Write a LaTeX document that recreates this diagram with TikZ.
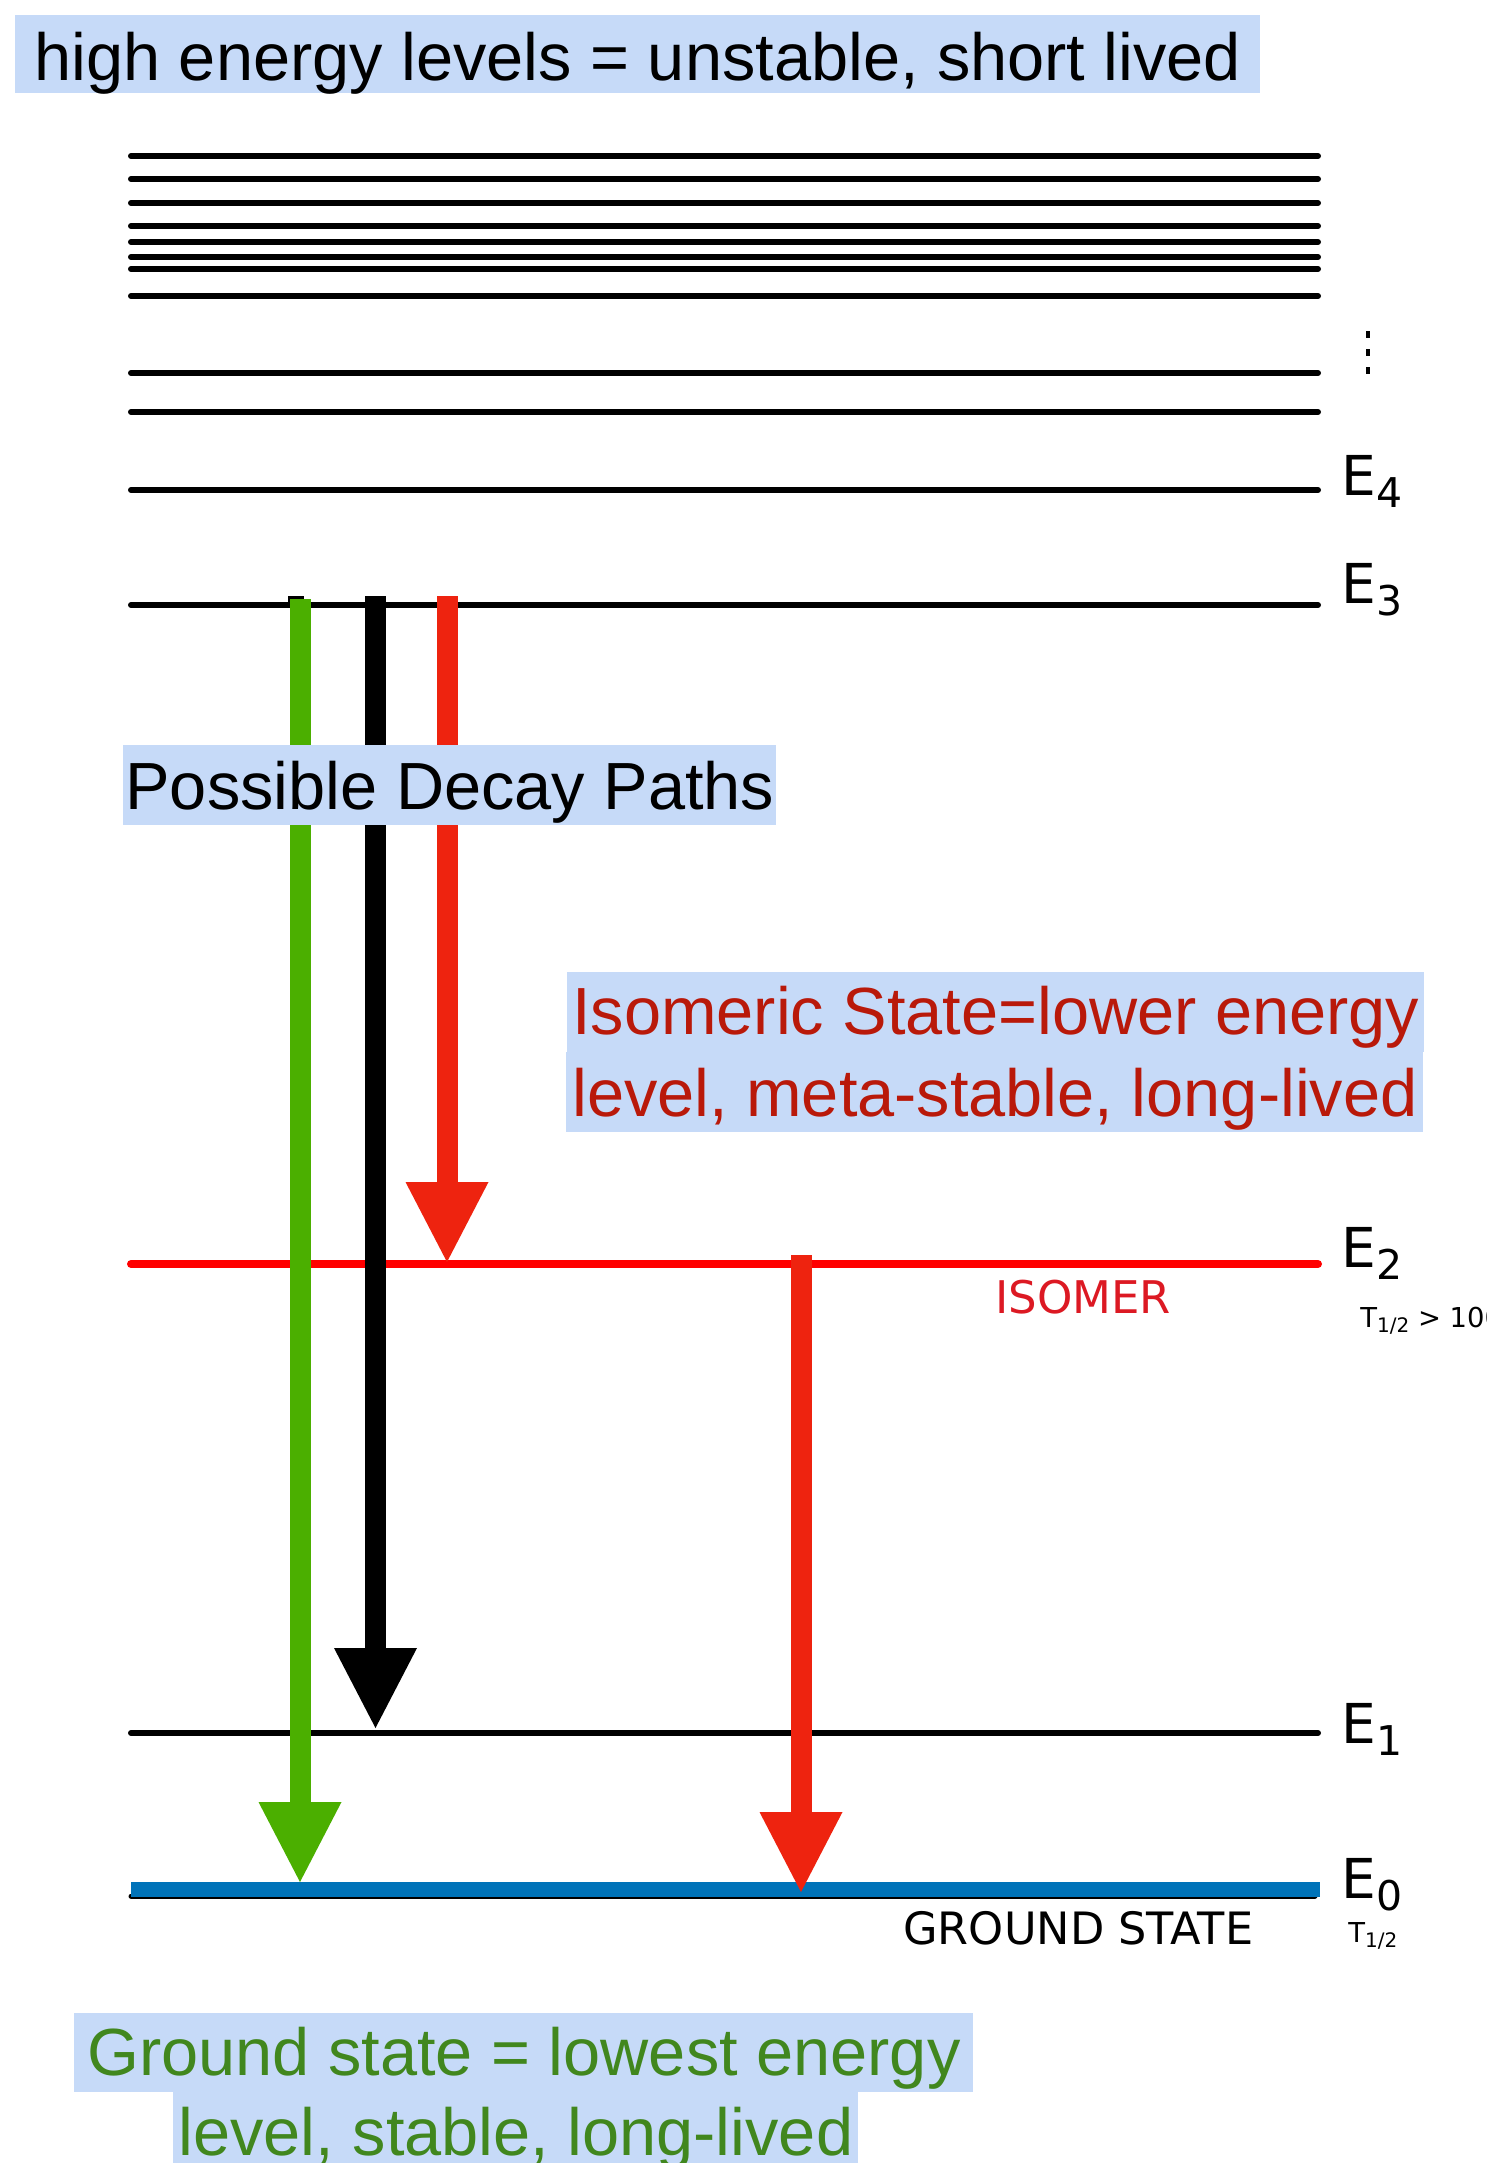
\documentclass[tikz,border=0pt]{standalone}
\usepackage{fontspec}
\setmainfont{Liberation Sans}
\newfontfamily\dejavu{DejaVu Sans}
\usetikzlibrary{arrows.meta}
\definecolor{hlblue}{RGB}{198,218,248}
\definecolor{isored}{RGB}{185,25,10}
\definecolor{gtext}{RGB}{65,135,30}
\definecolor{garrow}{RGB}{75,175,0}
\definecolor{rarrow}{RGB}{238,35,15}
\definecolor{lvlred}{RGB}{255,0,0}
\definecolor{lvlblue}{RGB}{0,115,185}
\definecolor{isolab}{RGB}{220,25,35}
\newcommand\esub[1]{\raisebox{-6pt}{\fontsize{20.5pt}{20pt}\selectfont #1}}
\newcommand\tsub[1]{\raisebox{-2.5pt}{\fontsize{10pt}{10pt}\selectfont #1}}
\begin{document}
\begin{tikzpicture}[x=0.5pt,y=-0.5pt,
  level/.style={line width=3pt, line cap=round},
  hl/.style={fill=hlblue, inner sep=0pt, anchor=north west,
    font=\fontsize{33.35pt}{40pt}\selectfont},
  elab/.style={font=\dejavu\fontsize{27.5pt}{30pt}\selectfont, inner sep=0pt, anchor=base west},
  thalf/.style={font=\dejavu\fontsize{13.7pt}{15pt}\selectfont, inner sep=0pt, anchor=base west},
  decay/.style={line width=10.5pt, -{Triangle[length=40pt,width=41.5pt,line width=0pt]}}
]
\useasboundingbox (0,0) rectangle (1487,2163);
\clip (0,0) rectangle (1487,2163);
\fill[white] (0,0) rectangle (1487,2163);

% high levels
\foreach \yy in {156,179,203,226,242,257,269,296,373,412}
  \draw[level] (131,\yy) -- (1318,\yy);
% dots
\foreach \yy in {334,352,370}
  \fill (1366,\yy-3.5) rectangle (1370,\yy+3.5);

% named levels
\coordinate (e4l) at (131,490);  \coordinate (e4r) at (1318,490);
\coordinate (e3l) at (131,605);  \coordinate (e3r) at (1318,605);
\coordinate (e2l) at (131,1264); \coordinate (e2r) at (1318,1264);
\coordinate (e1l) at (131,1733); \coordinate (e1r) at (1318,1733);
\coordinate (e0l) at (131,1889.5); \coordinate (e0r) at (1320,1889.5);
\draw[level] (e4l) -- (e4r);
\draw[level] (e3l) -- (e3r);
\draw[level, line width=4pt, lvlred] (e2l) -- (e2r);
\draw[level] (e1l) -- (e1r);
\draw[line width=2.5pt, line cap=round] (131,1896) -- (1315,1896);
\draw[line width=7.5pt, lvlblue] (e0l) -- (e0r);

% arrows
\coordinate (gtop) at (300,599);   \coordinate (gtip) at (300,1882);
\coordinate (btop) at (375.5,596); \coordinate (btip) at (375.5,1728);
\coordinate (r1top) at (447,596);  \coordinate (r1tip) at (447,1262);
\coordinate (r2top) at (801,1255); \coordinate (r2tip) at (801,1892);
\fill (288,596) rectangle (304,606);
\draw[decay, garrow] (gtop) -- (gtip);
\draw[decay, black] (btop) -- (btip);
\draw[decay, rarrow] (r1top) -- (r1tip);
\draw[decay, rarrow] (r2top) -- (r2tip);

% right labels
\node[elab] (le4) at (1341,495) {E\esub{4}};
\node[elab] (le3) at (1341,603) {E\esub{3}};
\node[elab] (le2) at (1341,1267) {E\esub{2}};
\node[elab] (le1) at (1341,1743) {E\esub{1}};
\node[elab] (le0) at (1341,1898) {E\esub{0}};
\node[thalf] (t2) at (1360,1327) {T\tsub{1/2} > 100};
\node[thalf] (t0) at (1348,1942) {T\tsub{1/2}};
\node[font=\dejavu\fontsize{22.5pt}{24pt}\selectfont, text=isolab, inner sep=0pt, anchor=base west] (iso) at (995,1313) {ISOMER};
\node[font=\dejavu\fontsize{22.3pt}{24pt}\selectfont, inner sep=0pt, anchor=base west] (gs) at (903,1944) {GROUND STATE};

% highlighted texts
\node[hl, minimum width=622.5pt, text height=32.5pt, text depth=6.5pt] (top) at (15,15)
  {high energy levels = unstable, short lived};
\node[hl, minimum width=326.5pt, text height=32pt, text depth=8pt] (paths) at (123,745)
  {Possible Decay Paths};
\node[hl, minimum width=428.5pt, text height=31pt, text depth=9pt, text=isored] (iso1) at (567,972)
  {Isomeric State=lower energy\hspace{3pt}};
\node[hl, minimum width=428.5pt, text height=32pt, text depth=8pt, text=isored] (iso2) at (566,1052)
  {level, meta-stable, long-lived\hspace{3pt}};
\node[hl, minimum width=449.5pt, text height=31pt, text depth=8.5pt, text=gtext] (gr1) at (74,2013)
  {Ground state = lowest energy\hspace{9pt}};
\node[hl, minimum width=342.5pt, text height=31.5pt, text depth=6pt, text=gtext] (gr2) at (173,2092)
  {level, stable, long-lived};
\end{tikzpicture}
\end{document}
